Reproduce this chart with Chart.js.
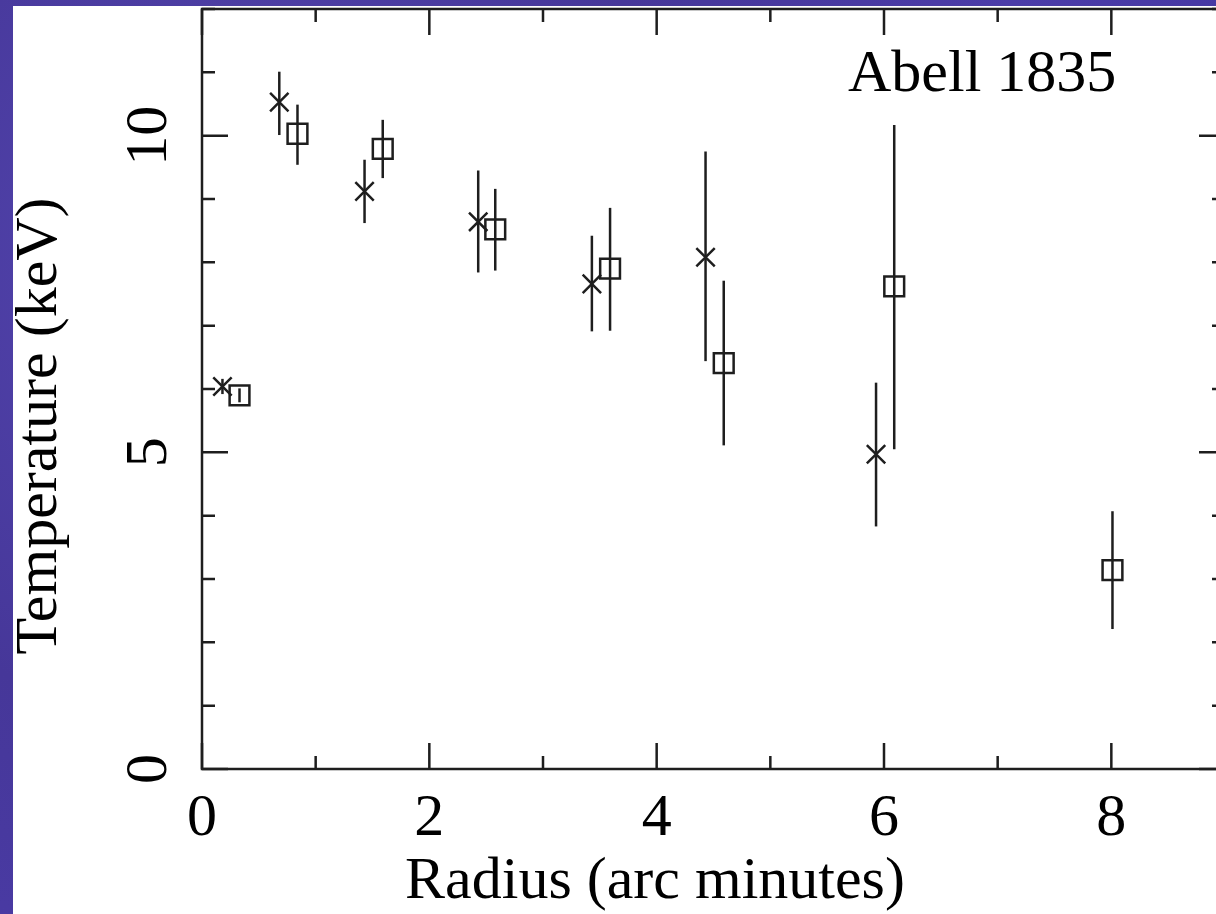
<!DOCTYPE html>
<html>
<head>
<meta charset="utf-8">
<script src="https://cdn.jsdelivr.net/npm/chart.js@4"></script>
<style>
  html, body { margin: 0; padding: 0; overflow: hidden; width: 1216px; height: 914px; }
  body {
    background: #4a3ba6;
    background-image: radial-gradient(circle at 20% 30%, #5446b0 0%, #463799 40%, #4b3ca8 70%, #4336a0 100%);
  }
  #paper { position: absolute; left: 13px; top: 6px; width: 1300px; height: 1000px; background: #fff; }
  #chart { position: absolute; left: 0; top: 0; }
</style>
</head>
<body>
<div id="paper"></div>
<canvas id="chart" width="1240" height="914"></canvas>
<script>
// radius (arc minutes) and temperature (keV)
const crossRadius = [0.18, 0.68, 1.43, 2.43, 3.43, 4.43, 5.93];
const crossTemp   = [6.04, 10.53, 9.12, 8.64, 7.66, 8.08, 4.97];
const crossLow    = [5.92, 10.01, 8.62, 7.84, 6.91, 6.44, 3.83];
const crossHigh   = [6.16, 11.01, 9.62, 9.45, 8.42, 9.75, 6.10];

const boxRadius = [0.33, 0.84, 1.59, 2.58, 3.59, 4.59, 6.09, 8.01];
const boxTemp   = [5.90, 10.03, 9.79, 8.52, 7.90, 6.41, 7.62, 3.14];
const boxLow    = [5.79, 9.54, 9.33, 7.87, 6.92, 5.11, 5.05, 2.21];
const boxHigh   = [6.01, 10.49, 10.25, 9.16, 8.86, 7.71, 10.17, 4.07];

const xTickLabels = [0, 2, 4, 6, 8];
const yTickLabels = [0, 5, 10];

const ink = '#1e1e1e';
const font = '"Liberation Serif", "Times New Roman", serif';

function toPoints(xs, ys) {
  return xs.map((x, i) => ({ x: x, y: ys[i] }));
}

// error bars, ticks, frame and labels
const framePlugin = {
  id: 'frame',
  beforeDatasetsDraw(chart) {
    const ctx = chart.ctx;
    const xs = chart.scales.x, ys = chart.scales.y;
    ctx.save();
    ctx.strokeStyle = ink;
    ctx.lineWidth = 2.5;
    const bars = [[crossRadius, crossLow, crossHigh], [boxRadius, boxLow, boxHigh]];
    bars.forEach(([r, lo, hi]) => {
      r.forEach((v, i) => {
        const px = xs.getPixelForValue(v);
        ctx.beginPath();
        ctx.moveTo(px, ys.getPixelForValue(lo[i]));
        ctx.lineTo(px, ys.getPixelForValue(hi[i]));
        ctx.stroke();
      });
    });
    ctx.restore();
  },
  afterDraw(chart) {
    const ctx = chart.ctx;
    const a = chart.chartArea;
    const xs = chart.scales.x, ys = chart.scales.y;
    ctx.save();
    ctx.strokeStyle = ink;
    ctx.lineWidth = 2.5;
    ctx.strokeRect(a.left, a.top, a.right - a.left, a.bottom - a.top);

    ctx.beginPath();
    for (let v = 0; v <= 9; v++) {
      const px = xs.getPixelForValue(v);
      const len = v % 2 === 0 ? 26 : 13;
      ctx.moveTo(px, a.bottom); ctx.lineTo(px, a.bottom - len);
      ctx.moveTo(px, a.top); ctx.lineTo(px, a.top + len);
    }
    for (let v = 0; v <= 12; v++) {
      const py = ys.getPixelForValue(v);
      const len = v % 5 === 0 ? 26 : 13;
      ctx.moveTo(a.left, py); ctx.lineTo(a.left + len, py);
      ctx.moveTo(a.right, py); ctx.lineTo(a.right - len, py);
    }
    ctx.stroke();

    ctx.fillStyle = '#000';
    ctx.font = '60px ' + font;
    ctx.textBaseline = 'alphabetic';
    ctx.textAlign = 'center';
    xTickLabels.forEach(v => {
      ctx.fillText(String(v), xs.getPixelForValue(v), 835);
    });
    ctx.fillText('Radius (arc minutes)', 655, 898);

    yTickLabels.forEach(v => {
      ctx.save();
      ctx.translate(166, ys.getPixelForValue(v));
      ctx.rotate(-Math.PI / 2);
      ctx.fillText(String(v), 0, 0);
      ctx.restore();
    });
    ctx.save();
    ctx.translate(56, 426);
    ctx.rotate(-Math.PI / 2);
    ctx.fillText('Temperature (keV)', 0, 0);
    ctx.restore();

    ctx.textAlign = 'left';
    ctx.fillText('Abell 1835', 848, 91);
    ctx.restore();
  }
};

new Chart(document.getElementById('chart'), {
  type: 'scatter',
  data: {
    datasets: [
      {
        label: 'cross',
        data: toPoints(crossRadius, crossTemp),
        pointStyle: 'crossRot',
        pointRadius: 13,
        pointHoverRadius: 13,
        borderColor: ink,
        borderWidth: 2.5
      },
      {
        label: 'box',
        data: toPoints(boxRadius, boxTemp),
        pointStyle: 'rect',
        pointRadius: 14,
        pointHoverRadius: 14,
        borderColor: ink,
        backgroundColor: 'rgba(0,0,0,0)',
        borderWidth: 2.5
      }
    ]
  },
  options: {
    responsive: false,
    animation: false,
    layout: { autoPadding: false, padding: { left: 202, top: 9, right: 15, bottom: 145 } },
    plugins: { legend: { display: false }, tooltip: { enabled: false } },
    scales: {
      x: {
        type: 'linear', min: 0, max: 9,
        ticks: { display: false, stepSize: 1 },
        grid: { display: false },
        border: { display: false },
        afterFit: s => { s.height = 0; s.paddingLeft = 0; s.paddingRight = 0; }
      },
      y: {
        min: 0, max: 12,
        ticks: { display: false, stepSize: 1 },
        grid: { display: false },
        border: { display: false },
        afterFit: s => { s.width = 0; s.paddingTop = 0; s.paddingBottom = 0; }
      }
    }
  },
  plugins: [framePlugin]
});
</script>
</body>
</html>
